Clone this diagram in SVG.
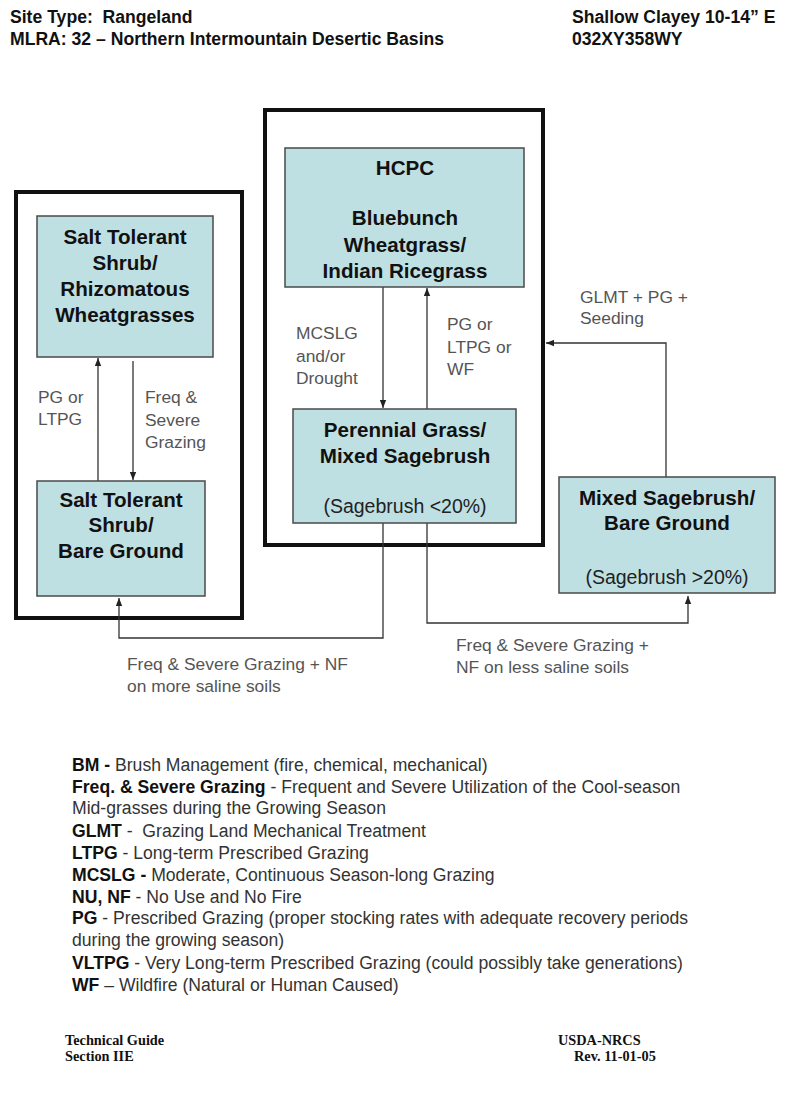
<svg xmlns="http://www.w3.org/2000/svg" width="800" height="1108" viewBox="0 0 800 1108">
<style>
.hdr{font-family:"Liberation Sans",Arial,sans-serif;font-size:17.6px;font-weight:bold;fill:#111}
.outer{fill:none;stroke:#111;stroke-width:4}
.box{fill:#bfe0e3;stroke:#4a4a4a;stroke-width:1.5}
.nt{font-family:"Liberation Sans",Arial,sans-serif;font-size:20.6px;font-weight:bold;fill:#111;text-anchor:middle}
.ns{font-family:"Liberation Sans",Arial,sans-serif;font-size:19.5px;fill:#222;text-anchor:middle}
.con{fill:none;stroke:#333;stroke-width:1.3}
.lbl{font-family:"Liberation Sans",Arial,sans-serif;font-size:17.4px;fill:#555}
.lg{font-family:"Liberation Sans",Arial,sans-serif;font-size:17.6px;fill:#333}
.lg tspan.b{font-weight:bold;fill:#111}
.ft{font-family:"Liberation Serif","Times New Roman",serif;font-size:14.3px;font-weight:bold;fill:#111}
</style>
<defs>
<marker id="ah" viewBox="0 0 10 8" refX="10" refY="4" markerWidth="8" markerHeight="7" markerUnits="userSpaceOnUse" orient="auto">
<path d="M0,0 L10,4 L0,8 z" fill="#222"/>
</marker>
</defs>
<rect width="800" height="1108" fill="#fff"/>

<g id="header">
<text class="hdr" x="10" y="23" xml:space="preserve">Site Type:  Rangeland</text>
<text class="hdr" x="10" y="45">MLRA: 32 – Northern Intermountain Desertic Basins</text>
<text class="hdr" x="572" y="23">Shallow Clayey 10-14” E</text>
<text class="hdr" x="572" y="45">032XY358WY</text>
</g>

<g id="group-left"><rect class="outer" x="16" y="192" width="226" height="426"/></g>
<g id="group-center"><rect class="outer" x="265" y="110" width="278" height="435"/></g>

<g id="connectors">
<line class="con" x1="98" y1="481" x2="98" y2="358" marker-end="url(#ah)"/>
<line class="con" x1="133" y1="361" x2="133" y2="480" marker-end="url(#ah)"/>
<line class="con" x1="383" y1="287" x2="383" y2="408" marker-end="url(#ah)"/>
<line class="con" x1="427" y1="409" x2="427" y2="288" marker-end="url(#ah)"/>
<path class="con" d="M666 477 V343 H546" marker-end="url(#ah)"/>
<path class="con" d="M383 523 V638 H119 V598" marker-end="url(#ah)"/>
<path class="con" d="M427 523 V623 H688 V596" marker-end="url(#ah)"/>
<text class="lbl" x="38" y="403">PG or</text>
<text class="lbl" x="38" y="425">LTPG</text>
<text class="lbl" x="145" y="403">Freq &amp;</text>
<text class="lbl" x="145" y="426">Severe</text>
<text class="lbl" x="145" y="448">Grazing</text>
<text class="lbl" x="296" y="339">MCSLG</text>
<text class="lbl" x="296" y="362">and/or</text>
<text class="lbl" x="296" y="384">Drought</text>
<text class="lbl" x="447" y="330">PG or</text>
<text class="lbl" x="447" y="353">LTPG or</text>
<text class="lbl" x="447" y="375">WF</text>
<text class="lbl" x="580" y="303">GLMT + PG +</text>
<text class="lbl" x="580" y="324">Seeding</text>
<text class="lbl" x="127" y="670">Freq &amp; Severe Grazing + NF</text>
<text class="lbl" x="127" y="692">on more saline soils</text>
<text class="lbl" x="456" y="651">Freq &amp; Severe Grazing +</text>
<text class="lbl" x="456" y="673">NF on less saline soils</text>
</g>

<g id="node-salt-rhizo">
<rect class="box" x="37" y="216" width="176" height="141"/>
<text class="nt" x="125" y="244">Salt Tolerant</text>
<text class="nt" x="125" y="270">Shrub/</text>
<text class="nt" x="125" y="296">Rhizomatous</text>
<text class="nt" x="125" y="322">Wheatgrasses</text>
</g>
<g id="node-salt-bare">
<rect class="box" x="37" y="481" width="168" height="115"/>
<text class="nt" x="121" y="507">Salt Tolerant</text>
<text class="nt" x="121" y="532">Shrub/</text>
<text class="nt" x="121" y="558">Bare Ground</text>
</g>
<g id="node-hcpc">
<rect class="box" x="285" y="148" width="239" height="139"/>
<text class="nt" x="405" y="175">HCPC</text>
<text class="nt" x="405" y="225">Bluebunch</text>
<text class="nt" x="405" y="252">Wheatgrass/</text>
<text class="nt" x="405" y="278">Indian Ricegrass</text>
</g>
<g id="node-perennial">
<rect class="box" x="293" y="409" width="223" height="114"/>
<text class="nt" x="405" y="437">Perennial Grass/</text>
<text class="nt" x="405" y="463">Mixed Sagebrush</text>
<text class="ns" x="405" y="513">(Sagebrush &lt;20%)</text>
</g>
<g id="node-mixed">
<rect class="box" x="559" y="477" width="216" height="116"/>
<text class="nt" x="667" y="505">Mixed Sagebrush/</text>
<text class="nt" x="667" y="530">Bare Ground</text>
<text class="ns" x="667" y="584">(Sagebrush &gt;20%)</text>
</g>

<g id="legend">
<text class="lg" x="72" y="771"><tspan class="b">BM -</tspan> Brush Management (fire, chemical, mechanical)</text>
<text class="lg" x="72" y="793"><tspan class="b">Freq. &amp; Severe Grazing</tspan> - Frequent and Severe Utilization of the Cool-season</text>
<text class="lg" x="72" y="814">Mid-grasses during the Growing Season</text>
<text class="lg" x="72" y="837" xml:space="preserve"><tspan class="b">GLMT</tspan> -  Grazing Land Mechanical Treatment</text>
<text class="lg" x="72" y="859"><tspan class="b">LTPG</tspan> - Long-term Prescribed Grazing</text>
<text class="lg" x="72" y="881"><tspan class="b">MCSLG -</tspan> Moderate, Continuous Season-long Grazing</text>
<text class="lg" x="72" y="903"><tspan class="b">NU, NF</tspan> - No Use and No Fire</text>
<text class="lg" x="72" y="924"><tspan class="b">PG</tspan> - Prescribed Grazing (proper stocking rates with adequate recovery periods</text>
<text class="lg" x="72" y="946">during the growing season)</text>
<text class="lg" x="72" y="969"><tspan class="b">VLTPG</tspan> - Very Long-term Prescribed Grazing (could possibly take generations)</text>
<text class="lg" x="72" y="991"><tspan class="b">WF</tspan> – Wildfire (Natural or Human Caused)</text>
</g>

<g id="footer">
<text class="ft" x="65" y="1045">Technical Guide</text>
<text class="ft" x="65" y="1061">Section IIE</text>
<text class="ft" x="558" y="1045">USDA-NRCS</text>
<text class="ft" x="574" y="1061">Rev. 11-01-05</text>
</g>
</svg>
